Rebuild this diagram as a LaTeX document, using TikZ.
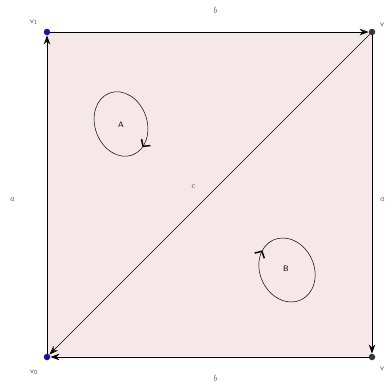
\documentclass[tikz,border=0pt]{standalone}
\usetikzlibrary{arrows.meta,decorations.markings}
\definecolor{facefill}{RGB}{246,232,232}
\definecolor{dotblue}{RGB}{20,20,170}
\definecolor{dotgray}{RGB}{55,55,55}
\definecolor{labgray}{RGB}{80,80,80}
\begin{document}
\begin{tikzpicture}[x=1pt,y=-1pt,
  dot/.style={circle,inner sep=0pt,minimum size=6.5pt},
  edge/.style={line width=0.7pt,-{Stealth[length=9pt,width=6.5pt]}},
  vlab/.style={font=\sffamily\footnotesize,text=labgray},
  side/.style={font=\small\itshape,text=labgray},
  region/.style={font=\sffamily\footnotesize},
  loopA/.style={line width=0.5pt,postaction={decorate},decoration={markings,
     mark=at position #1 with {\arrow{Straight Barb[length=5pt,width=11pt,line width=1.5pt]}}}}]
\useasboundingbox (0,0) rectangle (386,383);
\fill[facefill] (47,32) rectangle (372,357);
\node[dot,fill=dotblue] (v0) at (47,357) {};
\node[dot,fill=dotblue] (v1) at (47,32) {};
\node[dot,fill=dotgray] (v2) at (372,32) {};
\node[dot,fill=dotgray] (v3) at (372,357) {};
\draw[edge] (v0) -- (v1);
\draw[edge] (v1) -- (v2);
\draw[edge] (v2) -- (v3);
\draw[edge] (v3) -- (v0);
\draw[edge] (v2) -- (v0);
\node[vlab] (l1) at (34,22) {v\textsubscript{1}};
\node[vlab] (l0) at (34,372) {v\textsubscript{0}};
\node[vlab] (l2) at (382,25) {v};
\node[vlab] (l3) at (382,369) {v};
\node[side] (bt) at (215,10) {b};
\node[side] (bb) at (215,378) {b};
\node[side] (al) at (12,200) {a};
\node[side] (ar) at (382,200) {a};
\node[side] (c) at (193,187) {c};
\draw[loopA=0.18,rotate around={20:(121,124)}] (121,124) ellipse [x radius=26,y radius=33];
\draw[loopA=0.67,rotate around={25:(287,270)}] (287,270) ellipse [x radius=27,y radius=33];
\node[region] (A) at (121,125) {A};
\node[region] (B) at (286,269) {B};
\end{tikzpicture}
\end{document}
